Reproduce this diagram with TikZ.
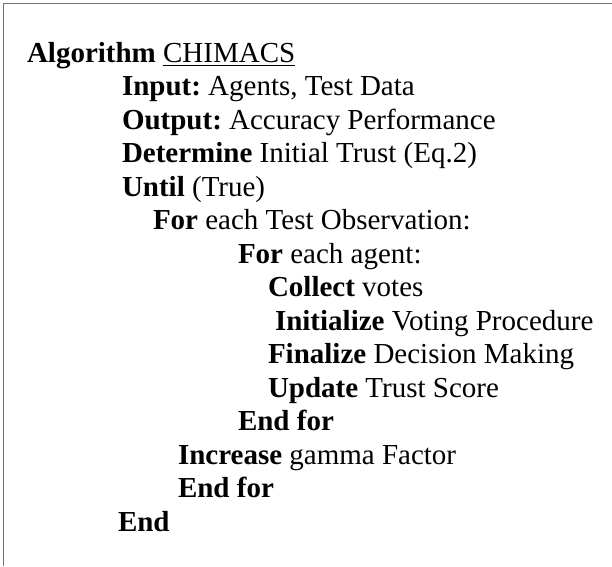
\documentclass[tikz,border=0pt]{standalone}
\usepackage{fontspec}
\setmainfont{Liberation Serif}
\frenchspacing
\begin{document}
\begin{tikzpicture}[x=1pt,y=-1pt,
  ln/.style={anchor=base west,inner sep=0pt,outer sep=0pt,font=\fontsize{29}{34}\selectfont},
  frame/.style={draw=black!55,line width=1.6pt}]
\useasboundingbox (0,0) rectangle (612,566);
\coordinate (tl) at (3.5,3.5);
\coordinate (tr) at (612,3.5);
\coordinate (bl) at (3.5,566);
\draw[frame] (tr) -- (tl) -- (bl);
\def\b#1{62+33.5*#1}
\node[ln] (alg) at (27,{\b{0}}) {\textbf{Algorithm}};
\node[ln,xshift=7.25pt] (chi) at (alg.base east) {CHIMACS};
\draw[line width=1.3pt] ([yshift=-3.5pt]chi.base west) -- ([yshift=-3.5pt]chi.base east);
\node[ln] (in) at (122,{\b{1}}) {\textbf{Input:} Agents, Test Data};
\node[ln] (out) at (122,{\b{2}}) {\textbf{Output:} Accuracy Performance};
\node[ln] (det) at (122,{\b{3}}) {\textbf{Determine} Initial Trust (Eq.2)};
\node[ln] (until) at (122,{\b{4}}) {\textbf{Until} (True)};
\node[ln] (fo) at (153,{\b{5}}) {\textbf{For} each Test Observation:};
\node[ln] (fa) at (238,{\b{6}}) {\textbf{For} each agent:};
\node[ln] (col) at (268,{\b{7}}) {\textbf{Collect} votes};
\node[ln] (ini) at (275,{\b{8}}) {\textbf{Initialize} Voting Procedure};
\node[ln] (fin) at (268,{\b{9}}) {\textbf{Finalize} Decision Making};
\node[ln] (upd) at (268,{\b{10}}) {\textbf{Update} Trust Score};
\node[ln] (ef1) at (238,{\b{11}}) {\textbf{End for}};
\node[ln] (inc) at (178,{\b{12}}) {\textbf{Increase} gamma Factor};
\node[ln] (ef2) at (178,{\b{13}}) {\textbf{End for}};
\node[ln] (end) at (118,{\b{14}}) {\textbf{End}};
\end{tikzpicture}
\end{document}
